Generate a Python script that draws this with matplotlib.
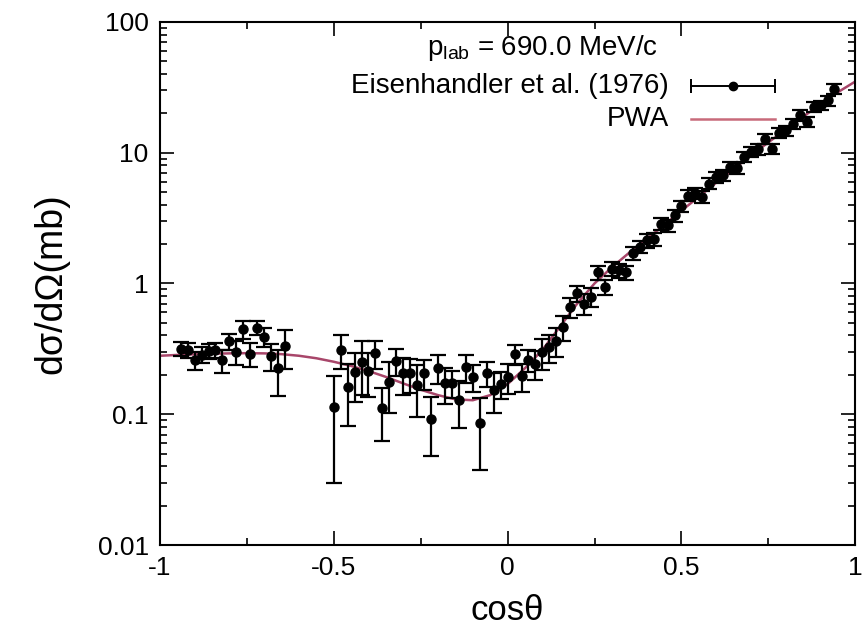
import numpy as np
import matplotlib
matplotlib.use('Agg')
import matplotlib.pyplot as plt

plt.rcParams['font.family'] = ['Liberation Sans', 'DejaVu Sans']
plt.rcParams['mathtext.fontset'] = 'custom'
plt.rcParams['mathtext.rm'] = 'Liberation Sans'
plt.rcParams['mathtext.it'] = 'Liberation Sans'

# Eisenhandler et al. (1976) data
cos_data = [-0.94, -0.92, -0.90, -0.88, -0.86, -0.84, -0.82, -0.80, -0.78, -0.76,
            -0.74, -0.72, -0.70, -0.68, -0.66, -0.64,
            -0.50, -0.48, -0.46, -0.44, -0.42, -0.40, -0.38, -0.36, -0.34, -0.32,
            -0.30, -0.28, -0.26, -0.24, -0.22, -0.20, -0.18, -0.16, -0.14, -0.12,
            -0.10, -0.08, -0.06, -0.04, -0.02, 0.00, 0.02, 0.04, 0.06, 0.08,
            0.10, 0.12, 0.14, 0.16, 0.18, 0.20, 0.22, 0.24, 0.26, 0.28,
            0.30, 0.32, 0.34, 0.36, 0.38, 0.40, 0.42, 0.44, 0.46, 0.48,
            0.50, 0.52, 0.54, 0.56, 0.58, 0.60, 0.62, 0.64, 0.66, 0.68,
            0.70, 0.72, 0.74, 0.76, 0.78, 0.80, 0.82, 0.84, 0.86, 0.88,
            0.90, 0.92, 0.94]
xsec_data = [0.317, 0.310, 0.258, 0.285, 0.305, 0.310, 0.258, 0.360, 0.300, 0.445,
             0.290, 0.460, 0.390, 0.280, 0.224, 0.330,
             0.113, 0.311, 0.161, 0.210, 0.250, 0.216, 0.293, 0.111, 0.176, 0.255,
             0.206, 0.206, 0.166, 0.206, 0.092, 0.226, 0.173, 0.173, 0.129, 0.229,
             0.192, 0.0855, 0.206, 0.154, 0.171, 0.194, 0.290, 0.195, 0.261, 0.243,
             0.298, 0.326, 0.366, 0.463, 0.659, 0.843, 0.700, 0.785, 1.22, 0.94,
             1.30, 1.26, 1.22, 1.71, 1.90, 2.13, 2.20, 2.86, 2.78, 3.31,
             3.9, 4.7, 4.9, 4.6, 5.8, 6.5, 6.7, 7.8, 7.6, 9.3,
             10.1, 10.6, 12.8, 10.7, 14.2, 14.8, 16.6, 19.3, 17.2, 22.3,
             23.0, 25.1, 30.8]
err_data = [0.040, 0.040, 0.040, 0.040, 0.040, 0.040, 0.050, 0.050, 0.060, 0.070,
            0.060, 0.060, 0.065, 0.065, 0.085, 0.110,
            0.083, 0.090, 0.080, 0.085, 0.110, 0.080, 0.073, 0.049, 0.074, 0.060,
            0.065, 0.060, 0.070, 0.053, 0.044, 0.056, 0.053, 0.041, 0.050, 0.055,
            0.044, 0.048, 0.045, 0.052, 0.040, 0.050, 0.050, 0.047, 0.050, 0.060,
            0.080, 0.080, 0.090, 0.100, 0.110, 0.120, 0.130, 0.130, 0.150, 0.130,
            0.150, 0.150, 0.150, 0.200, 0.200, 0.250, 0.250, 0.300, 0.300, 0.350,
            0.40, 0.45, 0.50, 0.45, 0.55, 0.60, 0.65, 0.70, 0.70, 0.85,
            0.90, 1.00, 1.10, 1.00, 1.30, 1.30, 1.50, 1.70, 1.50, 2.00,
            2.00, 2.20, 2.70]

# PWA curve
cos_pwa = [-1.00, -0.95, -0.90, -0.85, -0.80, -0.75, -0.70, -0.65, -0.60, -0.55,
           -0.50, -0.45, -0.40, -0.35, -0.30, -0.25, -0.20, -0.15, -0.10, -0.05,
           0.00, 0.05, 0.10, 0.15, 0.20, 0.25, 0.30, 0.35, 0.40, 0.45,
           0.50, 0.55, 0.60, 0.65, 0.70, 0.75, 0.80, 0.85, 0.90, 0.95, 1.00]
xsec_pwa = [0.280, 0.284, 0.287, 0.290, 0.292, 0.293, 0.292, 0.288, 0.280, 0.268,
            0.252, 0.234, 0.214, 0.193, 0.172, 0.154, 0.140, 0.130, 0.128, 0.140,
            0.170, 0.225, 0.310, 0.465, 0.700, 1.00, 1.33, 1.72, 2.18, 2.80,
            3.6, 4.6, 5.9, 7.5, 9.5, 12.0, 15.0, 18.8, 23.5, 29.0, 35.0]

fig = plt.figure(figsize=(8.64, 6.42), dpi=100)
ax = fig.add_axes([0.185, 0.151, 0.805, 0.815])

pwa_color = '#a8466a'
ax.plot(cos_pwa, xsec_pwa, color=pwa_color, lw=1.8, zorder=2)
ax.errorbar(cos_data, xsec_data, yerr=err_data, fmt='o', color='black',
            ms=6.5, elinewidth=1.6, capsize=5.5, capthick=1.6, zorder=3)

ax.set_yscale('log')
ax.set_xlim(-1, 1)
ax.set_ylim(0.01, 100)
ax.set_xticks([-1, -0.5, 0, 0.5, 1])
ax.set_xticklabels(['-1', '-0.5', '0', '0.5', '1'])
ax.set_xticks([-0.75, -0.25, 0.25, 0.75], minor=True)
ax.set_yticks([0.01, 0.1, 1, 10, 100])
ax.set_yticklabels(['0.01', '0.1', '1', '10', '100'])
ax.tick_params(which='both', direction='in', top=True, right=True, labelsize=19)
ax.tick_params(which='major', length=10, width=1.2, pad=8)
ax.tick_params(which='minor', length=5, width=1.2)
for s in ax.spines.values():
    s.set_linewidth(1.5)

ax.set_xlabel('cosθ', fontsize=25, labelpad=10)
ax.set_ylabel('dσ/dΩ(mb)', fontsize=27, labelpad=20)

# legend, gnuplot style
tr = ax.transAxes
ax.text(0.55, 0.950, r'p$_{\mathrm{lab}}$ = 690.0 MeV/c', transform=tr,
        ha='center', va='center', fontsize=20)
ax.text(0.732, 0.878, 'Eisenhandler et al. (1976)', transform=tr,
        ha='right', va='center', fontsize=20)
ax.text(0.732, 0.815, 'PWA', transform=tr, ha='right', va='center', fontsize=20)
ax.plot([0.763, 0.885], [0.878, 0.878], color='black', lw=1.4, transform=tr)
ax.plot([0.763, 0.885], [0.878, 0.878], ls='none', marker='|', ms=10,
        mew=1.4, color='black', transform=tr)
ax.plot([0.824], [0.878], 'o', color='black', ms=6, transform=tr)
ax.plot([0.763, 0.885], [0.815, 0.815], color='#c86a7a', lw=1.8, transform=tr)

fig.savefig('out.png', dpi=100)
